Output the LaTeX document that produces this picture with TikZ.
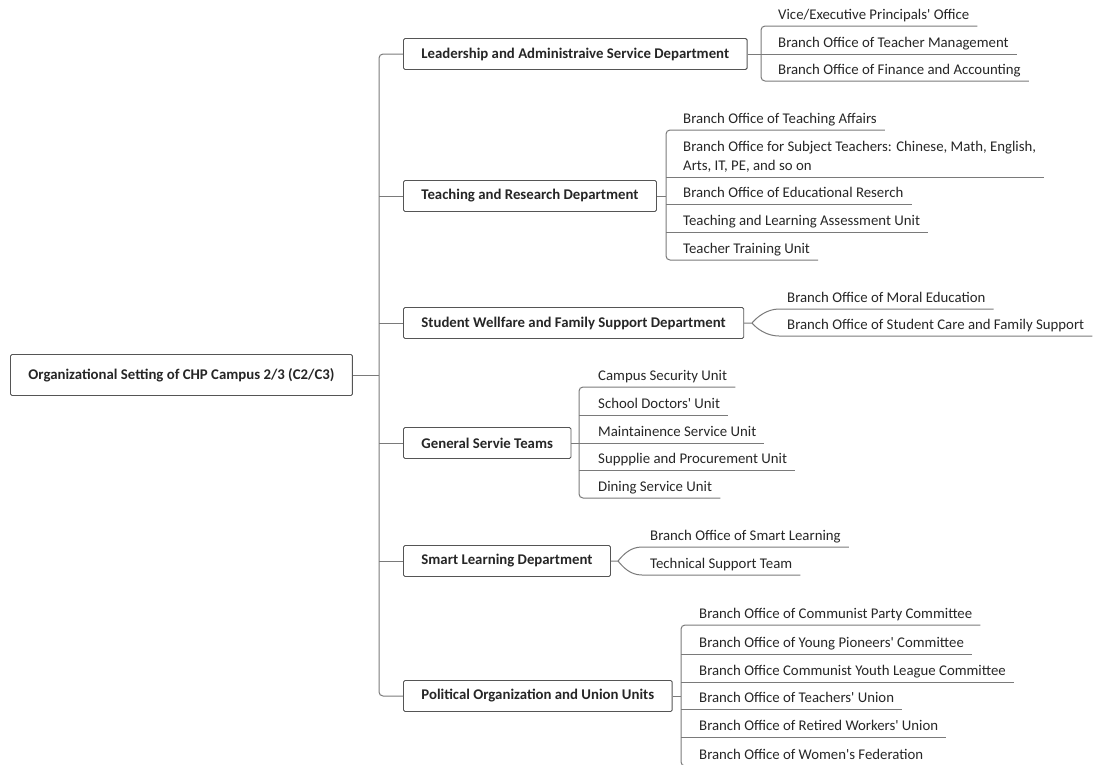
\documentclass[tikz,border=0pt]{standalone}
\usepackage{fontspec}
\setmainfont{Carlito}
\usetikzlibrary{positioning}
\definecolor{boxgray}{HTML}{555555}
\definecolor{linegray}{HTML}{7A7A7A}
\definecolor{textgray}{HTML}{262626}
\newcommand{\mapfont}{\fontsize{14.8}{18}\selectfont}
\newcommand{\q}{\textquotesingle}
\tikzset{
    rootbox/.style={draw=boxgray, line width=0.9pt, fill=white, rounded corners=1.5pt, font=\mapfont\bfseries, text=textgray, minimum height=41pt, inner xsep=18pt, anchor=west},
    dept/.style={draw=boxgray, line width=0.9pt, fill=white, rounded corners=1.5pt, font=\mapfont\bfseries, text=textgray, minimum height=31pt, inner xsep=18pt, anchor=west},
    leaf/.style={font=\mapfont, text=textgray, inner xsep=8pt, inner ysep=3pt, text depth=3pt, anchor=south west, align=left},
    link/.style={draw=linegray, line width=1pt}
}
\begin{document}
\begin{tikzpicture}[x=1pt,y=-1pt]
            \useasboundingbox (0,0) rectangle (1095,764);
            \node[rootbox] (root) at (10,375) {Organizational Setting of CHP Campus 2/3 (C2/C3)};
            \node[dept] (d1) at (403,54) {Leadership and Administraive Service Department};
            \node[dept] (d2) at (403,196) {Teaching and Research Department};
            \node[dept] (d3) at (403,323) {Student Wellfare and Family Support Department};
            \node[dept] (d4) at (403,443) {General Servie Teams};
            \node[dept] (d5) at (403,561) {Smart Learning Department};
            \node[dept] (d6) at (403,696) {Political Organization and Union Units};
            \coordinate (tr) at (379,375);
            \draw[link] (root.east) -- (tr);
            \draw[link, rounded corners=4pt] (d1.west) -| (tr) |- (d6.west);
            \foreach \d in {d2,d3,d4,d5}
                \draw[link] (\d.west -| tr) -- (\d.west);
            % leadership
            \coordinate (b1) at (761,54);
            \node[leaf] (c11) at (770,26) {Vice/Executive Principals\q{} Office};
            \node[leaf] (c12) at (770,54) {Branch Office of Teacher Management};
            \node[leaf] (c13) at (770,81) {Branch Office of Finance and Accounting};
            \draw[link] (d1.east) -- (b1);
            \draw[link, rounded corners=4pt] (c11.south east) -- (c11.south west -| b1) -- (c13.south west -| b1) -- (c13.south east);
            \draw[link] (c12.south west -| b1) -- (c12.south east);
            % teaching
            \coordinate (b2) at (666,196);
            \node[leaf] (c21) at (675,130) {Branch Office of Teaching Affairs};
            \node[leaf] (c22) at (675,177) {Branch Office for Subject Teachers: Chinese, Math, English,\\[1pt] Arts, IT, PE, and so on};
            \node[leaf] (c23) at (675,204) {Branch Office of Educational Reserch};
            \node[leaf] (c24) at (675,232) {Teaching and Learning Assessment Unit};
            \node[leaf] (c25) at (675,260) {Teacher Training Unit};
            \draw[link] (d2.east) -- (b2);
            \draw[link, rounded corners=4pt] (c21.south east) -- (c21.south west -| b2) -- (c25.south west -| b2) -- (c25.south east);
            \foreach \c in {c22,c23,c24}
                \draw[link] (\c.south west -| b2) -- (\c.south east);
            % student welfare
            \coordinate (s3) at (752,323);
            \node[leaf] (c31) at (779,309) {Branch Office of Moral Education};
            \node[leaf] (c32) at (779,336) {Branch Office of Student Care and Family Support};
            \draw[link] (d3.east) -- (s3) .. controls +(5,-6) and +(-12,0) .. (c31.south west) -- (c31.south east);
            \draw[link] (s3) .. controls +(5,6) and +(-12,0) .. (c32.south west) -- (c32.south east);
            % general service
            \coordinate (b4) at (579,443);
            \node[leaf] (c41) at (590,387) {Campus Security Unit};
            \node[leaf] (c42) at (590,415) {School Doctors\q{} Unit};
            \node[leaf] (c43) at (590,443) {Maintainence Service Unit};
            \node[leaf] (c44) at (590,470) {Suppplie and Procurement Unit};
            \node[leaf] (c45) at (590,498) {Dining Service Unit};
            \draw[link] (d4.east) -- (b4);
            \draw[link, rounded corners=4pt] (c41.south east) -- (c41.south west -| b4) -- (c45.south west -| b4) -- (c45.south east);
            \foreach \c in {c42,c43,c44}
                \draw[link] (\c.south west -| b4) -- (\c.south east);
            % smart learning
            \coordinate (s5) at (618,561);
            \node[leaf] (c51) at (642,547) {Branch Office of Smart Learning};
            \node[leaf] (c52) at (642,575) {Technical Support Team};
            \draw[link] (d5.east) -- (s5) .. controls +(5,-6) and +(-12,0) .. (c51.south west) -- (c51.south east);
            \draw[link] (s5) .. controls +(5,6) and +(-12,0) .. (c52.south west) -- (c52.south east);
            % political
            \coordinate (b6) at (681,696);
            \node[leaf] (c61) at (691,625) {Branch Office of Communist Party Committee};
            \node[leaf] (c62) at (691,654) {Branch Office of Young Pioneers\q{} Committee};
            \node[leaf] (c63) at (691,682) {Branch Office Communist Youth League Committee};
            \node[leaf] (c64) at (691,709) {Branch Office of Teachers\q{} Union};
            \node[leaf] (c65) at (691,737) {Branch Office of Retired Workers\q{} Union};
            \node[leaf] (c66) at (691,766) {Branch Office of Women\q{}s Federation};
            \draw[link] (d6.east) -- (b6);
            \draw[link, rounded corners=4pt] (c61.south east) -- (c61.south west -| b6) -- (c66.south west -| b6) -- (c66.south east);
            \foreach \c in {c62,c63,c64,c65}
                \draw[link] (\c.south west -| b6) -- (\c.south east);
        \end{tikzpicture}
\end{document}
